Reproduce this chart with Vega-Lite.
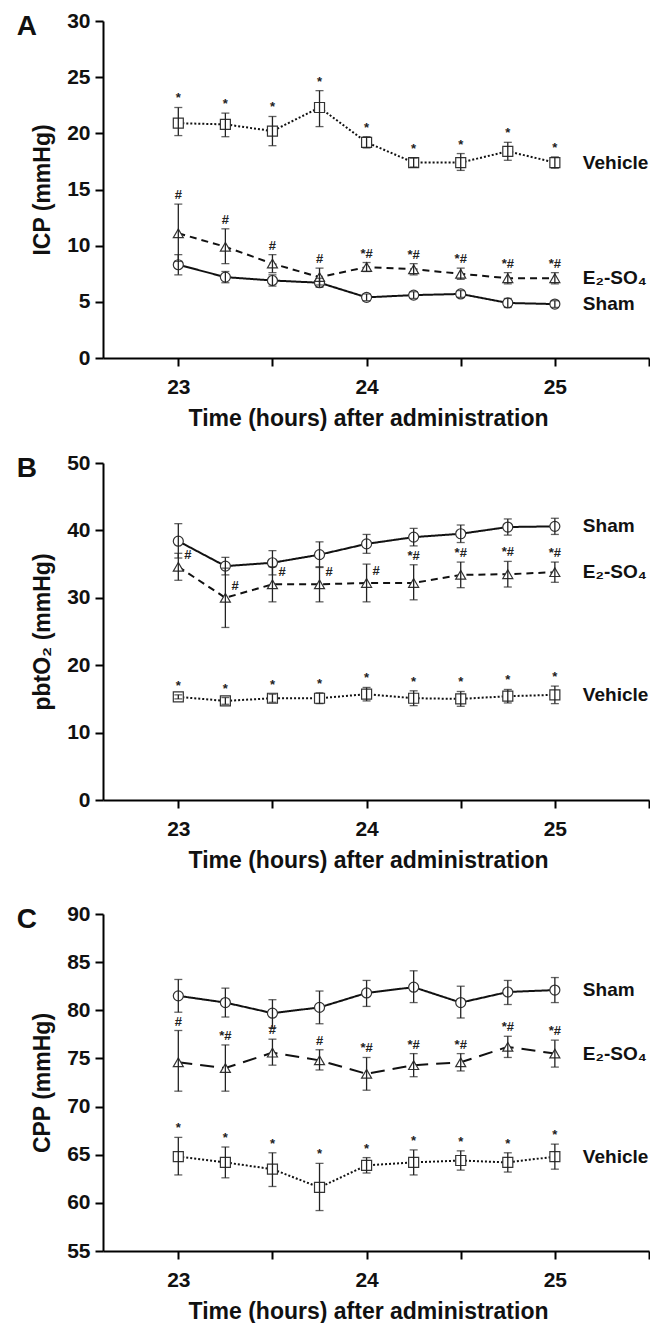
{
"$schema": "https://vega.github.io/schema/vega-lite/v6.json",
"padding": {"left": 16, "top": 10, "right": 0, "bottom": 0},
"spacing": 31,
"resolve": {"scale": {"x": "independent", "y": "independent", "strokeDash": "independent", "shape": "independent"}},
"config": {
  "font": "Liberation Sans",
  "view": {"stroke": null},
  "concat": {"spacing": 22},
  "axis": {"domainColor": "#000", "domainWidth": 2, "tickColor": "#000", "tickWidth": 2, "tickSize": 8, "labelFont": "Liberation Sans", "labelFontSize": 21, "labelFontWeight": "bold", "labelColor": "#111", "titleFont": "Liberation Sans", "titleFontSize": 23, "titleFontWeight": "bold", "titleColor": "#111", "grid": false},
  "axisX": {"labelPadding": 10, "titlePadding": 10, "labelFlush": false, "format": "d", "titleX": 265},
  "axisY": {"labelPadding": 5, "titlePadding": 12},
  "title": {"font": "Liberation Sans", "fontSize": 28, "fontWeight": "bold", "color": "#111", "anchor": "start", "frame": "bounds", "offset": 0, "dy": 35, "dx": -15}
},
"datasets": {
"d": [
{"panel":"A","group":"Sham","t":23,"mean":8.3,"lo":7.4,"hi":9.2,"sig":""},
{"panel":"A","group":"Sham","t":23.25,"mean":7.2,"lo":6.7,"hi":7.7,"sig":""},
{"panel":"A","group":"Sham","t":23.5,"mean":6.9,"lo":6.4,"hi":7.4,"sig":""},
{"panel":"A","group":"Sham","t":23.75,"mean":6.7,"lo":6.3,"hi":7.1,"sig":""},
{"panel":"A","group":"Sham","t":24,"mean":5.4,"lo":5.1,"hi":5.7,"sig":""},
{"panel":"A","group":"Sham","t":24.25,"mean":5.6,"lo":5.3,"hi":5.9,"sig":""},
{"panel":"A","group":"Sham","t":24.5,"mean":5.7,"lo":5.4,"hi":6.0,"sig":""},
{"panel":"A","group":"Sham","t":24.75,"mean":4.9,"lo":4.5,"hi":5.3,"sig":""},
{"panel":"A","group":"Sham","t":25,"mean":4.8,"lo":4.5,"hi":5.1,"sig":""},
{"panel":"A","group":"E₂-SO₄","t":23,"mean":11.1,"lo":8.6,"hi":13.7,"sig":"#"},
{"panel":"A","group":"E₂-SO₄","t":23.25,"mean":9.9,"lo":8.4,"hi":11.5,"sig":"#"},
{"panel":"A","group":"E₂-SO₄","t":23.5,"mean":8.4,"lo":7.6,"hi":9.2,"sig":"#"},
{"panel":"A","group":"E₂-SO₄","t":23.75,"mean":7.2,"lo":6.5,"hi":8.0,"sig":"#"},
{"panel":"A","group":"E₂-SO₄","t":24,"mean":8.1,"lo":7.7,"hi":8.5,"sig":"*#"},
{"panel":"A","group":"E₂-SO₄","t":24.25,"mean":7.9,"lo":7.4,"hi":8.4,"sig":"*#"},
{"panel":"A","group":"E₂-SO₄","t":24.5,"mean":7.5,"lo":7.0,"hi":8.0,"sig":"*#"},
{"panel":"A","group":"E₂-SO₄","t":24.75,"mean":7.1,"lo":6.6,"hi":7.6,"sig":"*#"},
{"panel":"A","group":"E₂-SO₄","t":25,"mean":7.1,"lo":6.6,"hi":7.6,"sig":"*#"},
{"panel":"A","group":"Vehicle","t":23,"mean":20.9,"lo":19.8,"hi":22.3,"sig":"*"},
{"panel":"A","group":"Vehicle","t":23.25,"mean":20.8,"lo":19.7,"hi":21.8,"sig":"*"},
{"panel":"A","group":"Vehicle","t":23.5,"mean":20.2,"lo":18.9,"hi":21.5,"sig":"*"},
{"panel":"A","group":"Vehicle","t":23.75,"mean":22.3,"lo":20.6,"hi":23.8,"sig":"*"},
{"panel":"A","group":"Vehicle","t":24,"mean":19.2,"lo":18.7,"hi":19.7,"sig":"*"},
{"panel":"A","group":"Vehicle","t":24.25,"mean":17.4,"lo":17.0,"hi":17.8,"sig":"*"},
{"panel":"A","group":"Vehicle","t":24.5,"mean":17.4,"lo":16.7,"hi":18.2,"sig":"*"},
{"panel":"A","group":"Vehicle","t":24.75,"mean":18.4,"lo":17.6,"hi":19.2,"sig":"*"},
{"panel":"A","group":"Vehicle","t":25,"mean":17.4,"lo":16.9,"hi":17.9,"sig":"*"},
{"panel":"B","group":"Sham","t":23,"mean":38.4,"lo":35.9,"hi":41.0,"sig":""},
{"panel":"B","group":"Sham","t":23.25,"mean":34.7,"lo":33.4,"hi":36.0,"sig":""},
{"panel":"B","group":"Sham","t":23.5,"mean":35.2,"lo":33.4,"hi":37.0,"sig":""},
{"panel":"B","group":"Sham","t":23.75,"mean":36.4,"lo":34.5,"hi":38.3,"sig":""},
{"panel":"B","group":"Sham","t":24,"mean":38.0,"lo":36.6,"hi":39.4,"sig":""},
{"panel":"B","group":"Sham","t":24.25,"mean":39.0,"lo":37.7,"hi":40.3,"sig":""},
{"panel":"B","group":"Sham","t":24.5,"mean":39.5,"lo":38.2,"hi":40.8,"sig":""},
{"panel":"B","group":"Sham","t":24.75,"mean":40.5,"lo":39.3,"hi":41.7,"sig":""},
{"panel":"B","group":"Sham","t":25,"mean":40.6,"lo":39.4,"hi":41.8,"sig":""},
{"panel":"B","group":"E₂-SO₄","t":23,"mean":34.6,"lo":32.6,"hi":36.6,"sig":"#"},
{"panel":"B","group":"E₂-SO₄","t":23.25,"mean":30.0,"lo":25.6,"hi":34.4,"sig":"#"},
{"panel":"B","group":"E₂-SO₄","t":23.5,"mean":32.0,"lo":29.4,"hi":34.6,"sig":"#"},
{"panel":"B","group":"E₂-SO₄","t":23.75,"mean":32.0,"lo":29.4,"hi":34.6,"sig":"#"},
{"panel":"B","group":"E₂-SO₄","t":24,"mean":32.2,"lo":29.4,"hi":35.0,"sig":"#"},
{"panel":"B","group":"E₂-SO₄","t":24.25,"mean":32.2,"lo":29.7,"hi":34.9,"sig":"*#"},
{"panel":"B","group":"E₂-SO₄","t":24.5,"mean":33.4,"lo":31.5,"hi":35.3,"sig":"*#"},
{"panel":"B","group":"E₂-SO₄","t":24.75,"mean":33.5,"lo":31.6,"hi":35.4,"sig":"*#"},
{"panel":"B","group":"E₂-SO₄","t":25,"mean":33.8,"lo":32.3,"hi":35.3,"sig":"*#"},
{"panel":"B","group":"Vehicle","t":23,"mean":15.3,"lo":15.0,"hi":15.6,"sig":"*"},
{"panel":"B","group":"Vehicle","t":23.25,"mean":14.7,"lo":14.2,"hi":15.2,"sig":"*"},
{"panel":"B","group":"Vehicle","t":23.5,"mean":15.1,"lo":14.5,"hi":15.7,"sig":"*"},
{"panel":"B","group":"Vehicle","t":23.75,"mean":15.1,"lo":14.3,"hi":15.9,"sig":"*"},
{"panel":"B","group":"Vehicle","t":24,"mean":15.7,"lo":14.7,"hi":16.7,"sig":"*"},
{"panel":"B","group":"Vehicle","t":24.25,"mean":15.1,"lo":14.0,"hi":16.2,"sig":"*"},
{"panel":"B","group":"Vehicle","t":24.5,"mean":15.0,"lo":13.9,"hi":16.1,"sig":"*"},
{"panel":"B","group":"Vehicle","t":24.75,"mean":15.4,"lo":14.4,"hi":16.4,"sig":"*"},
{"panel":"B","group":"Vehicle","t":25,"mean":15.6,"lo":14.3,"hi":16.9,"sig":"*"},
{"panel":"C","group":"Sham","t":23,"mean":81.5,"lo":79.8,"hi":83.2,"sig":""},
{"panel":"C","group":"Sham","t":23.25,"mean":80.8,"lo":79.3,"hi":82.3,"sig":""},
{"panel":"C","group":"Sham","t":23.5,"mean":79.7,"lo":78.2,"hi":81.1,"sig":""},
{"panel":"C","group":"Sham","t":23.75,"mean":80.3,"lo":78.6,"hi":82.0,"sig":""},
{"panel":"C","group":"Sham","t":24,"mean":81.8,"lo":80.4,"hi":83.1,"sig":""},
{"panel":"C","group":"Sham","t":24.25,"mean":82.4,"lo":80.8,"hi":84.1,"sig":""},
{"panel":"C","group":"Sham","t":24.5,"mean":80.8,"lo":79.2,"hi":82.5,"sig":""},
{"panel":"C","group":"Sham","t":24.75,"mean":81.9,"lo":80.6,"hi":83.1,"sig":""},
{"panel":"C","group":"Sham","t":25,"mean":82.1,"lo":80.8,"hi":83.4,"sig":""},
{"panel":"C","group":"E₂-SO₄","t":23,"mean":74.6,"lo":71.6,"hi":77.9,"sig":"#"},
{"panel":"C","group":"E₂-SO₄","t":23.25,"mean":74.0,"lo":71.6,"hi":76.4,"sig":"*#"},
{"panel":"C","group":"E₂-SO₄","t":23.5,"mean":75.6,"lo":74.3,"hi":77.0,"sig":"#"},
{"panel":"C","group":"E₂-SO₄","t":23.75,"mean":74.8,"lo":73.8,"hi":75.9,"sig":"#"},
{"panel":"C","group":"E₂-SO₄","t":24,"mean":73.4,"lo":71.7,"hi":75.1,"sig":"*#"},
{"panel":"C","group":"E₂-SO₄","t":24.25,"mean":74.3,"lo":73.1,"hi":75.5,"sig":"*#"},
{"panel":"C","group":"E₂-SO₄","t":24.5,"mean":74.6,"lo":73.7,"hi":75.5,"sig":"*#"},
{"panel":"C","group":"E₂-SO₄","t":24.75,"mean":76.2,"lo":75.1,"hi":77.3,"sig":"*#"},
{"panel":"C","group":"E₂-SO₄","t":25,"mean":75.5,"lo":74.1,"hi":76.9,"sig":"*#"},
{"panel":"C","group":"Vehicle","t":23,"mean":64.8,"lo":62.9,"hi":66.8,"sig":"*"},
{"panel":"C","group":"Vehicle","t":23.25,"mean":64.2,"lo":62.6,"hi":65.8,"sig":"*"},
{"panel":"C","group":"Vehicle","t":23.5,"mean":63.5,"lo":61.7,"hi":65.2,"sig":"*"},
{"panel":"C","group":"Vehicle","t":23.75,"mean":61.6,"lo":59.2,"hi":64.1,"sig":"*"},
{"panel":"C","group":"Vehicle","t":24,"mean":63.9,"lo":63.1,"hi":64.7,"sig":"*"},
{"panel":"C","group":"Vehicle","t":24.25,"mean":64.2,"lo":62.9,"hi":65.5,"sig":"*"},
{"panel":"C","group":"Vehicle","t":24.5,"mean":64.4,"lo":63.4,"hi":65.4,"sig":"*"},
{"panel":"C","group":"Vehicle","t":24.75,"mean":64.2,"lo":63.2,"hi":65.2,"sig":"*"},
{"panel":"C","group":"Vehicle","t":25,"mean":64.8,"lo":63.5,"hi":66.1,"sig":"*"}
]
},
"vconcat": [
{
"spacing": 22,
"vconcat": [
{
  "width": 546, "height": 337,
  "title": {"text": "A"},
  "data": {"name": "d"},
  "transform": [{"filter": "datum.panel == 'A'"}],
  "encoding": {"x": {"field": "t", "type": "quantitative", "scale": {"domain": [22.6, 25.5], "nice": false, "zero": false}, "axis": {"values": [23, 23.5, 24, 24.5, 25, 25.5], "labelExpr": "datum.value % 1 === 0 ? datum.label : ''"}, "title": "Time (hours) after administration"}},
  "layer": [
    {"mark": {"type": "line", "color": "#111", "strokeWidth": 2}, "encoding": {"y": {"field": "mean", "type": "quantitative", "scale": {"domain": [0, 30], "nice": false}, "axis": {"values": [0, 5, 10, 15, 20, 25, 30]}, "title": "ICP (mmHg)"}, "strokeDash": {"field": "group", "type": "nominal", "scale": {"domain": ["Sham", "E₂-SO₄", "Vehicle"], "range": [[1, 0], [7, 5], [2, 2]]}, "legend": null}}},
    {"mark": {"type": "point", "filled": true, "fill": "white", "stroke": "#333", "strokeWidth": 1.2, "size": 100, "opacity": 1}, "encoding": {"y": {"field": "mean", "type": "quantitative", "title": "ICP (mmHg)"}, "shape": {"field": "group", "type": "nominal", "scale": {"domain": ["Sham", "E₂-SO₄", "Vehicle"], "range": ["circle", "triangle-up", "square"]}, "legend": null}}},
    {"mark": {"type": "errorbar", "ticks": {"size": 8}, "color": "#222", "thickness": 1.3}, "encoding": {"y": {"field": "lo", "type": "quantitative", "title": "ICP (mmHg)"}, "y2": {"field": "hi"}}},
    {"transform": [{"filter": "datum.sig != ''"}], "mark": {"type": "text", "fontSize": 13, "fontWeight": "bold", "color": "#222", "baseline": "alphabetic", "dy": -5}, "encoding": {"y": {"field": "hi", "type": "quantitative", "title": "ICP (mmHg)"}, "text": {"field": "sig"}}},
    {"transform": [{"filter": "datum.t == 25"}], "mark": {"type": "text", "fontSize": 19, "fontWeight": "bold", "color": "#111", "align": "left", "baseline": "middle", "dx": 28}, "encoding": {"y": {"field": "mean", "type": "quantitative", "title": "ICP (mmHg)"}, "text": {"field": "group"}}}
  ]
},
{
  "width": 546, "height": 337,
  "title": {"text": "B"},
  "data": {"name": "d"},
  "transform": [{"filter": "datum.panel == 'B'"}],
  "encoding": {"x": {"field": "t", "type": "quantitative", "scale": {"domain": [22.6, 25.5], "nice": false, "zero": false}, "axis": {"values": [23, 23.5, 24, 24.5, 25, 25.5], "labelExpr": "datum.value % 1 === 0 ? datum.label : ''"}, "title": "Time (hours) after administration"}},
  "layer": [
    {"mark": {"type": "line", "color": "#111", "strokeWidth": 2}, "encoding": {"y": {"field": "mean", "type": "quantitative", "scale": {"domain": [0, 50], "nice": false}, "axis": {"values": [0, 10, 20, 30, 40, 50]}, "title": "pbtO₂ (mmHg)"}, "strokeDash": {"field": "group", "type": "nominal", "scale": {"domain": ["Sham", "E₂-SO₄", "Vehicle"], "range": [[1, 0], [14, 8], [2, 2]]}, "legend": null}}},
    {"mark": {"type": "point", "filled": true, "fill": "white", "stroke": "#333", "strokeWidth": 1.2, "size": 100, "opacity": 1}, "encoding": {"y": {"field": "mean", "type": "quantitative", "title": "pbtO₂ (mmHg)"}, "shape": {"field": "group", "type": "nominal", "scale": {"domain": ["Sham", "E₂-SO₄", "Vehicle"], "range": ["circle", "triangle-up", "square"]}, "legend": null}}},
    {"mark": {"type": "errorbar", "ticks": {"size": 8}, "color": "#222", "thickness": 1.3}, "encoding": {"y": {"field": "lo", "type": "quantitative", "title": "pbtO₂ (mmHg)"}, "y2": {"field": "hi"}}},
    {"transform": [{"filter": "datum.sig != '' && !(datum.group == 'E₂-SO₄' && datum.t <= 24)"}], "mark": {"type": "text", "fontSize": 13, "fontWeight": "bold", "color": "#222", "baseline": "alphabetic", "dy": -5}, "encoding": {"y": {"field": "hi", "type": "quantitative", "title": "pbtO₂ (mmHg)"}, "text": {"field": "sig"}}},
    {"transform": [{"filter": "datum.group == 'E₂-SO₄' && datum.t <= 24"}], "mark": {"type": "text", "fontSize": 13, "fontWeight": "bold", "color": "#222", "align": "left", "baseline": "middle", "dx": 6, "dy": -12}, "encoding": {"y": {"field": "mean", "type": "quantitative", "title": "pbtO₂ (mmHg)"}, "text": {"field": "sig"}}},
    {"transform": [{"filter": "datum.t == 25"}], "mark": {"type": "text", "fontSize": 19, "fontWeight": "bold", "color": "#111", "align": "left", "baseline": "middle", "dx": 28}, "encoding": {"y": {"field": "mean", "type": "quantitative", "title": "pbtO₂ (mmHg)"}, "text": {"field": "group"}}}
  ]
}
]
},
{
  "width": 546, "height": 337,
  "title": {"text": "C"},
  "data": {"name": "d"},
  "transform": [{"filter": "datum.panel == 'C'"}],
  "encoding": {"x": {"field": "t", "type": "quantitative", "scale": {"domain": [22.6, 25.5], "nice": false, "zero": false}, "axis": {"values": [23, 23.5, 24, 24.5, 25, 25.5], "labelExpr": "datum.value % 1 === 0 ? datum.label : ''"}, "title": "Time (hours) after administration"}},
  "layer": [
    {"mark": {"type": "line", "color": "#111", "strokeWidth": 2}, "encoding": {"y": {"field": "mean", "type": "quantitative", "scale": {"domain": [55, 90], "nice": false, "zero": false}, "axis": {"values": [55, 60, 65, 70, 75, 80, 85, 90]}, "title": "CPP (mmHg)"}, "strokeDash": {"field": "group", "type": "nominal", "scale": {"domain": ["Sham", "E₂-SO₄", "Vehicle"], "range": [[1, 0], [14, 8], [2, 2]]}, "legend": null}}},
    {"mark": {"type": "point", "filled": true, "fill": "white", "stroke": "#333", "strokeWidth": 1.2, "size": 100, "opacity": 1}, "encoding": {"y": {"field": "mean", "type": "quantitative", "title": "CPP (mmHg)"}, "shape": {"field": "group", "type": "nominal", "scale": {"domain": ["Sham", "E₂-SO₄", "Vehicle"], "range": ["circle", "triangle-up", "square"]}, "legend": null}}},
    {"mark": {"type": "errorbar", "ticks": {"size": 8}, "color": "#222", "thickness": 1.3}, "encoding": {"y": {"field": "lo", "type": "quantitative", "title": "CPP (mmHg)"}, "y2": {"field": "hi"}}},
    {"transform": [{"filter": "datum.sig != ''"}], "mark": {"type": "text", "fontSize": 13, "fontWeight": "bold", "color": "#222", "baseline": "alphabetic", "dy": -5}, "encoding": {"y": {"field": "hi", "type": "quantitative", "title": "CPP (mmHg)"}, "text": {"field": "sig"}}},
    {"transform": [{"filter": "datum.t == 25"}], "mark": {"type": "text", "fontSize": 19, "fontWeight": "bold", "color": "#111", "align": "left", "baseline": "middle", "dx": 28}, "encoding": {"y": {"field": "mean", "type": "quantitative", "title": "CPP (mmHg)"}, "text": {"field": "group"}}}
  ]
}
]
}
